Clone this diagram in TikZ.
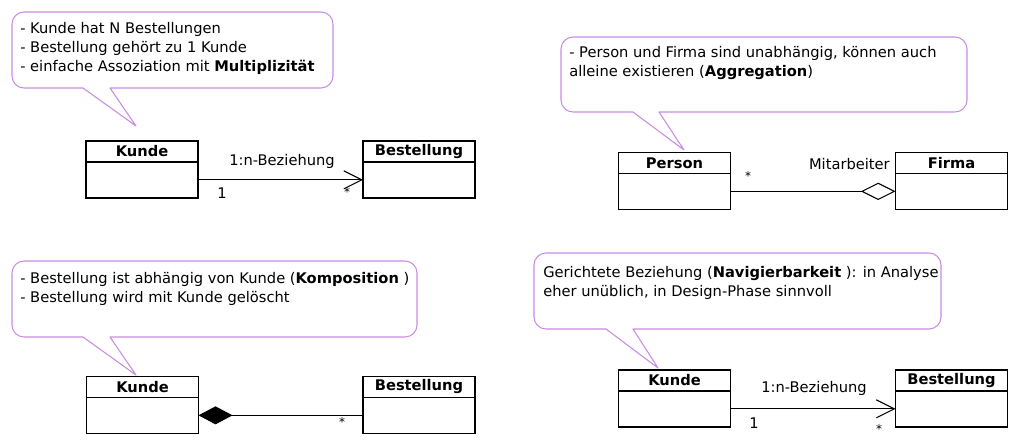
\documentclass[tikz,border=0pt]{standalone}
\usepackage{fontspec}
\setmainfont{DejaVu Sans}
\usetikzlibrary{arrows.meta, positioning, calc}
\definecolor{notelila}{RGB}{200,140,225}

\tikzset{
    classhead/.style={draw, line width=1.1pt, minimum width=84pt, minimum height=15.5pt, inner sep=0pt, outer sep=0pt, font=\fontsize{11}{14.25}\selectfont\bfseries},
    classbody/.style={draw, line width=1.1pt, minimum width=84pt, minimum height=27pt, inner sep=0pt, outer sep=0pt},
    callout/.style={draw=notelila, line width=0.8pt, line join=round},
    notetext/.style={anchor=north west, inner sep=0pt, align=left},
    lbl/.style={inner sep=0pt},
    star/.style={inner sep=0pt, font=\small},
    navi/.style={line width=0.8pt, -{Straight Barb[length=13.5pt, width=13.5pt, line width=0.8pt]}},
    aggr/.style={line width=0.8pt, -{Diamond[open, length=26pt, width=13pt, line width=0.8pt]}},
    komp/.style={line width=0.8pt, {Diamond[length=25.5pt, width=13.5pt]}-}
}

\begin{document}
\begin{tikzpicture}[x=0.75pt, y=-0.75pt, font=\fontsize{11}{14.25}\selectfont]
        \useasboundingbox (0,0) rectangle (1019,446);

        % oben links: einfache Assoziation
        \draw[callout] (83,88) -- (136,126) -- (110,88) [rounded corners=9pt] -- (333,88) -- (333,12) -- (12,12) -- (12,88) [sharp corners] -- cycle;
        \node[notetext] (note1) at (20,22) {- Kunde hat N Bestellungen\\- Bestellung gehört zu 1 Kunde\\- einfache Assoziation mit \textbf{Multiplizität}};

        \node[classhead] (kunde1) at (142,151.5) {Kunde};
        \node[classbody, below=0pt of kunde1] (kunde1b) {};
        \node[classhead] (best1) at (419,151.5) {Bestellung};
        \node[classbody, below=0pt of best1] (best1b) {};
        \draw[navi] (kunde1b.east) -- (best1b.west);
        \node[lbl] (rel1) at (282,161) {1:n-Beziehung};
        \node[lbl] (one1) at (222,193) {1};
        \node[star] (many1) at (347,192) {*};

        % oben rechts: Aggregation
        \draw[callout] (633,112) -- (684,150) -- (659,112) [rounded corners=9pt] -- (967,112) -- (967,37) -- (561,37) -- (561,112) [sharp corners] -- cycle;
        \node[notetext] (note2) at (569,46) {- Person und Firma sind unabhängig, können auch\\alleine existieren (\textbf{Aggregation})};

        \node[classhead] (person2) at (674.5,163) {Person};
        \node[classbody, below=0pt of person2] (person2b) {};
        \node[classhead] (firma2) at (951.5,163) {Firma};
        \node[classbody, below=0pt of firma2] (firma2b) {};
        \draw[aggr] (person2b.east) -- (firma2b.west);
        \node[lbl, anchor=east] (role2) at (890,164) {Mitarbeiter};
        \node[star] (many2) at (748,176) {*};

        % unten links: Komposition
        \draw[callout] (83,337) -- (136,375) -- (110,337) [rounded corners=9pt] -- (417,337) -- (417,261) -- (12,261) -- (12,337) [sharp corners] -- cycle;
        \node[notetext] (note3) at (20,272) {- Bestellung ist abhängig von Kunde (\textbf{Komposition} )\\- Bestellung wird mit Kunde gelöscht};

        \node[classhead] (kunde3) at (142.5,387) {Kunde};
        \node[classbody, below=0pt of kunde3] (kunde3b) {};
        \node[classhead] (best3) at (419,387) {Bestellung};
        \node[classbody, below=0pt of best3] (best3b) {};
        \draw[komp] (kunde3b.east) -- (best3b.west);
        \node[star] (many3) at (342,422) {*};

        % unten rechts: Navigierbarkeit
        \draw[callout] (606,329) -- (658,368) -- (633,329) [rounded corners=9pt] -- (941,329) -- (941,253) -- (534,253) -- (534,329) [sharp corners] -- cycle;
        \node[notetext] (note4) at (543,266) {Gerichtete Beziehung (\textbf{Navigierbarkeit} ): in Analyse\\eher unüblich, in Design-Phase sinnvoll};

        \node[classhead] (kunde4) at (674.5,380.5) {Kunde};
        \node[classbody, below=0pt of kunde4] (kunde4b) {};
        \node[classhead] (best4) at (951.5,380.5) {Bestellung};
        \node[classbody, below=0pt of best4] (best4b) {};
        \draw[navi] (kunde4b.east) -- (best4b.west);
        \node[lbl] (rel4) at (814,388) {1:n-Beziehung};
        \node[lbl] (one4) at (754,423) {1};
        \node[star] (many4) at (879,429) {*};
\end{tikzpicture}
\end{document}
